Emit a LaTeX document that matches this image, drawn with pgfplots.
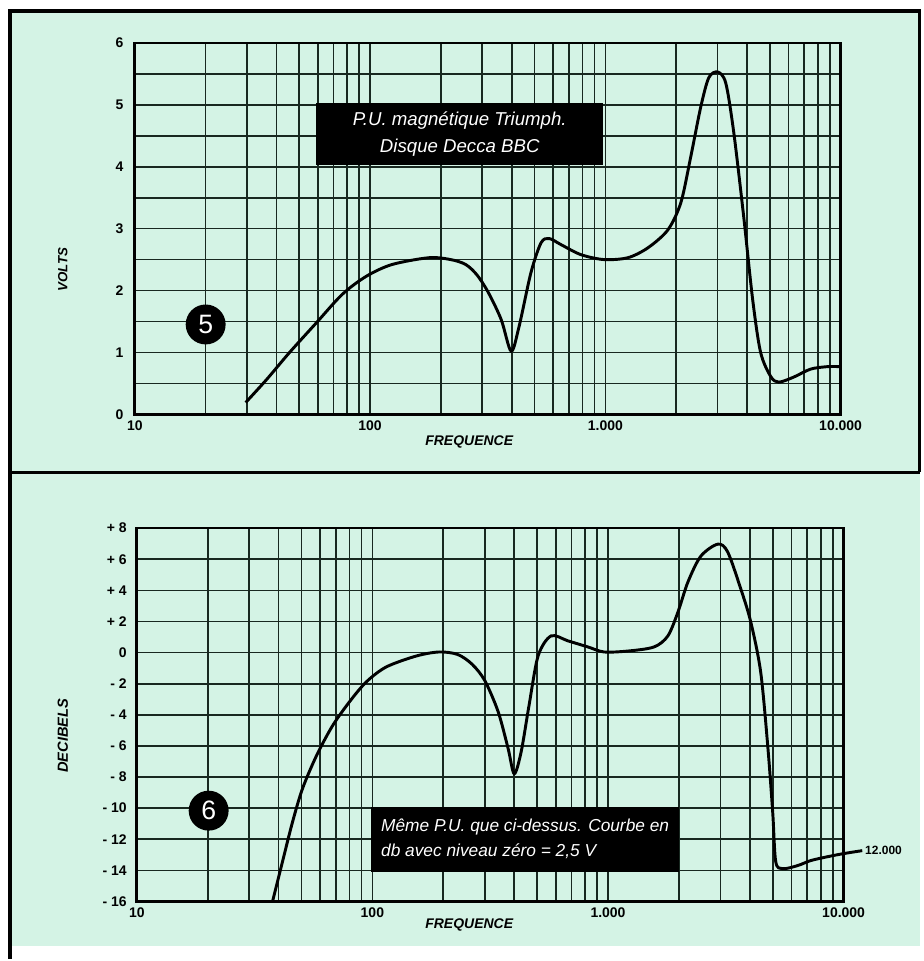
\documentclass[border=0pt]{standalone}
\usepackage{pgfplots}
\pgfplotsset{compat=1.18}
\usepackage{fontspec}
\setmainfont{Liberation Sans}

\definecolor{paper}{RGB}{212,243,229}
\definecolor{gridc}{RGB}{24,40,32}

\begin{document}
\begin{tikzpicture}
  % page and paper
  \fill[white] (0,0) rectangle (693.75pt,-720.75pt);
  \fill[paper] (7.5pt,-8.25pt) rectangle (691.5pt,-711pt);
  \draw[line width=2.4pt] (6.75pt,-8.25pt) -- (691pt,-8.25pt) -- (691pt,-354.75pt);
  \draw[line width=2.4pt] (6.75pt,-354.75pt) -- (691pt,-354.75pt);
  \draw[line width=2.4pt] (7.5pt,-7pt) -- (7.5pt,-720.75pt);

  % ---------- plate 5 : volts ----------
  \begin{axis}[
    scale only axis, anchor=north west,
    at={(101.25pt,-32.25pt)},
    width=530.25pt, height=279pt,
    xmode=log, xmin=10, xmax=10000,
    xtick={10,100,1000,10000},
    xticklabels={10,100,1.000,10.000},
    ymin=0, ymax=6,
    ytick={0,1,2,3,4,5,6},
    yticklabels={0,1,2,3,4,5,6},
    minor y tick num=1,
    grid=both,
    major grid style={line width=1.25pt, color=gridc},
    minor grid style={line width=1.25pt, color=gridc},
    axis line style={line width=2pt, color=black},
    major tick length=0pt, minor tick length=0pt,
    tick label style={font=\bfseries\fontsize{10.5}{11}\selectfont},
    xticklabel style={yshift=-1pt},
    yticklabel style={xshift=-5pt},
    clip=false,
  ]
    \addplot[black, line width=2.2pt, smooth, no marks] coordinates {
      (29.6,0.19) (36.3,0.56) (45.5,1.00) (59.2,1.48) (76.3,1.94)
      (96.4,2.23) (124,2.42) (178,2.53) (220,2.50) (255,2.42) (285,2.25)
      (318,1.97) (361,1.53) (398,1.02) (430,1.42) (483,2.29)
      (533,2.77) (577,2.84) (649,2.74) (787,2.58) (986,2.50)
      (1247,2.53) (1517,2.69) (1845,2.98) (2094,3.42) (2307,4.16)
      (2546,4.97) (2754,5.44) (3006,5.53) (3251,5.35) (3516,4.55)
      (3875,3.19) (4230,1.85) (4571,1.00) (5047,0.61) (5456,0.52)
      (6310,0.60) (7450,0.73) (8795,0.77) (10000,0.77)
    };
  \end{axis}

  % ---------- plate 6 : decibels ----------
  \begin{axis}[
    scale only axis, anchor=north west,
    at={(102.75pt,-396.75pt)},
    width=531pt, height=280.5pt,
    xmode=log, xmin=10, xmax=10000,
    xtick={10,100,1000,10000},
    xticklabels={10,100,1.000,10.000},
    ymin=-16, ymax=8,
    ytick={-16,-14,-12,-10,-8,-6,-4,-2,0,2,4,6,8},
    yticklabels={- 16,- 14,- 12,- 10,- 8,- 6,- 4,- 2,0,+ 2,+ 4,+ 6,+ 8},
    grid=both,
    major grid style={line width=1.25pt, color=gridc},
    minor grid style={line width=1.25pt, color=gridc},
    axis line style={line width=2pt, color=black},
    major tick length=0pt, minor tick length=0pt,
    tick label style={font=\bfseries\fontsize{10.5}{11}\selectfont},
    xticklabel style={yshift=-1pt},
    yticklabel style={xshift=-4pt},
    clip=false,
  ]
    \addplot[black, line width=2.2pt, smooth, no marks] coordinates {
      (37.7,-16) (41.6,-13.4) (45.8,-10.9) (50.5,-8.75) (57.9,-6.63)
      (67.7,-4.71) (79.9,-3.17) (94.3,-1.88) (114.6,-0.92) (153.6,-0.22)
      (192,0.04) (230,-0.12) (265,-0.75) (300,-1.8) (342,-3.81)
      (377,-6.18) (400,-7.79) (428,-6.38) (462,-3.42) (505,-0.22)
      (573,1.07) (677,0.75) (823,0.36) (962,0.04) (1216,0.10)
      (1567,0.36) (1795,1.07) (1982,2.61) (2183,4.53) (2478,6.2)
      (2925,6.97) (3223,6.46) (3664,4.08) (4036,1.97) (4446,-1.24)
      (4764,-5.99) (5000,-10.23) (5152,-13.44) (5520,-13.89) (6383,-13.69)
      (7250,-13.37) (8551,-13.12) (10000,-12.92) (12000,-12.73)
    };
    \node[anchor=west, font=\bfseries\fontsize{9}{10}\selectfont, inner sep=2pt]
      at (axis cs:12000,-12.73) {12.000};
  \end{axis}

  % ---------- annotations ----------
  \begin{scope}[x=0.75pt, y=-0.75pt]
    \node[rotate=90, font=\bfseries\itshape\fontsize{10}{11}\selectfont] at (63,270) {VOLTS};
    \node[rotate=90, font=\bfseries\itshape\fontsize{11}{12}\selectfont] at (63,737) {DECIBELS};
    \node[font=\bfseries\itshape\fontsize{10.5}{11}\selectfont] at (470,443) {FREQUENCE};
    \node[font=\bfseries\itshape\fontsize{10.5}{11}\selectfont] at (470,927) {FREQUENCE};

    \node[circle, fill=black, text=white, minimum size=30pt, inner sep=0pt,
          font=\fontsize{20}{21}\selectfont] at (206,325) {5};
    \node[circle, fill=black, text=white, minimum size=30pt, inner sep=0pt,
          font=\fontsize{20}{21}\selectfont] at (209,812) {6};

    \fill[black] (317,103) rectangle (604,165);
    \node[text=white, align=center, font=\itshape\fontsize{14}{20}\selectfont]
      at (460.5,134) {P.U. magnétique Triumph.\\Disque Decca BBC};

    \fill[black] (372,808) rectangle (680,873);
    \node[text=white, align=left, font=\itshape\fontsize{13}{19}\selectfont]
      at (526,840.5) {Même P.U. que ci-dessus. Courbe en\\db avec niveau zéro = 2,5 V};
  \end{scope}
\end{tikzpicture}
\end{document}
